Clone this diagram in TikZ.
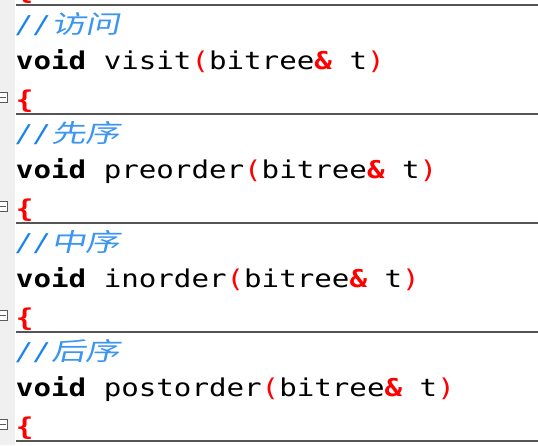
\documentclass[tikz,border=0pt]{standalone}
\usepackage{fontspec}
\newfontfamily\codefont[FakeStretch=1.19]{DejaVu Sans Mono}
\newfontfamily\cjkfont[FakeStretch=1.38,FakeSlant=0.22]{Noto Sans CJK SC}
\definecolor{kwred}{RGB}{255,0,0}
\definecolor{cmtblue}{RGB}{25,130,235}
\definecolor{cjkblue}{RGB}{60,150,240}
\definecolor{gutter}{RGB}{240,240,240}
\definecolor{sepgray}{RGB}{85,85,85}
\definecolor{foldgray}{RGB}{90,90,90}
\tikzset{
  codeline/.style={anchor=base west,inner sep=0pt,outer sep=0pt,font=\codefont\fontsize{24.5}{30}\selectfont,text=black},
  cmtline/.style={anchor=base west,inner sep=0pt,outer sep=0pt,font=\codefont\fontsize{24.5}{30}\selectfont,text=cmtblue},
  sepline/.style={draw=sepgray,line width=2pt},
  foldbox/.style={draw=foldgray,fill=white,line width=0.9pt}
}
\newcommand{\rd}[1]{\textcolor{kwred}{#1}}
\newcommand{\rdb}[1]{\textcolor{kwred}{\bfseries #1}}
\newcommand{\cjk}[1]{{\cjkfont\fontsize{25}{30}\selectfont\color{cjkblue}#1}}
\begin{document}
\begin{tikzpicture}[x=1pt,y=-1pt]
\useasboundingbox (0,0) rectangle (538,445);
\fill[gutter] (0,0) rectangle (15,445);
% brace of the previous block, cut at the top
\node[codeline] (b0) at (16,-0.5) {\rdb{\{}};
% blocks
\foreach \k/\cm/\fn in {0/访问/visit,1/先序/preorder,2/中序/inorder,3/后序/postorder}{
  \pgfmathsetmacro{\yk}{4.5+109*\k}
  \node[cmtline] (c\k) at (16,\yk+28.8) {{\itshape //}\cjk{\cm}};
  \node[codeline] (f\k) at (16,\yk+64.8) {{\bfseries void} \fn\rd{(}bitree\rdb{\&} t\rd{)}};
  \node[codeline] (o\k) at (16,\yk+104) {\rdb{\{}};
  \draw[foldbox] (-2,\yk+88) rectangle (7.5,\yk+98);
  \draw[foldgray,line width=1pt] (0,\yk+93) -- (5.5,\yk+93);
}
\foreach \k in {0,...,4}{
  \draw[sepline] (16,4.5+109*\k) -- (538,4.5+109*\k);
}
\end{tikzpicture}
\end{document}
